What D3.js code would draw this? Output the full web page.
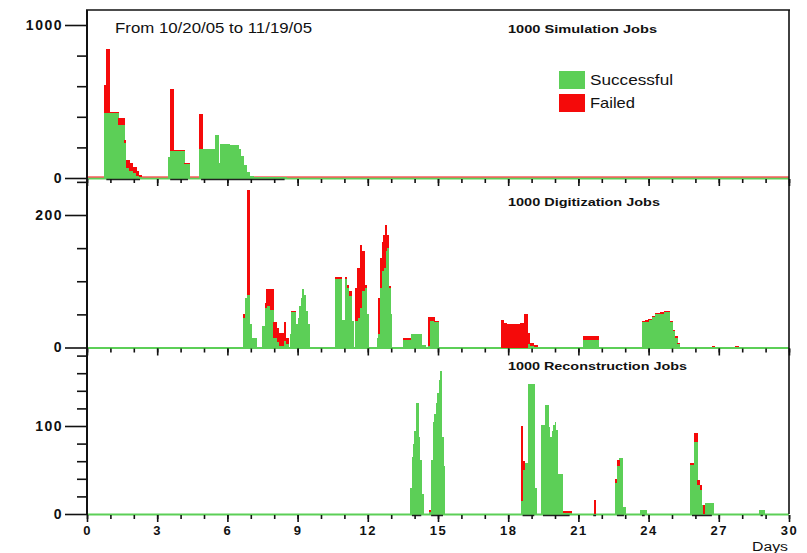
<!DOCTYPE html>
<html><head><meta charset="utf-8">
<script src="https://cdn.jsdelivr.net/npm/d3@7"></script>
<style>body{margin:0;background:#fff}svg{display:block}</style>
</head><body>
<svg id="c" width="807" height="553"></svg>
<script>
// ---- data: [startDay, endDay, successful, failed] ----
const simulationBins = [
 [0.74,0.82,425,185],[0.82,0.95,425,420],[0.95,1.33,425,8],[1.33,1.59,345,45],[1.59,1.66,230,20],
 [1.66,1.80,65,55],[1.80,1.95,45,55],[1.95,2.10,30,45],[2.10,2.22,15,32],[2.22,2.35,5,17],
 [3.47,3.56,140,0],[3.56,3.70,176,405],[3.70,4.16,176,6],[4.16,4.40,90,6],
 [4.79,4.93,190,228],[4.93,5.47,190,0],[5.47,5.61,281,0],[5.61,5.68,98,0],[5.68,6.10,225,0],
 [6.10,6.47,218,0],[6.47,6.58,190,0],[6.58,6.70,145,0],[6.70,6.82,85,0],[6.82,6.95,38,0],
 [6.95,7.10,15,0],[7.10,8.53,6,0]
];
const digitizationBins = [
 [6.68,6.75,45,5],[6.75,6.82,75,0],[6.82,6.97,80,158],[6.97,7.05,35,0],[7.05,7.25,15,0],
 [7.46,7.60,32,0],[7.60,7.67,60,7],[7.67,7.82,62,26],[7.82,7.96,57,31],[7.96,8.10,15,23],
 [8.10,8.20,8,22],[8.20,8.40,3,19],[8.40,8.50,10,28],[8.50,8.60,5,10],
 [8.66,8.72,20,0],[8.72,8.92,53,2],[8.92,9.00,35,0],[9.00,9.06,45,0],[9.06,9.13,62,0],
 [9.13,9.20,75,0],[9.20,9.27,88,0],[9.27,9.34,80,0],[9.34,9.41,55,0],[9.41,9.53,35,0],
 [10.60,10.90,103,3],[10.90,11.03,42,0],[11.03,11.10,103,3],[11.10,11.20,90,5],[11.20,11.30,78,8],
 [11.30,11.40,40,0],[11.45,11.55,40,50],[11.55,11.65,45,75],[11.65,11.75,60,95],[11.75,11.85,85,60],
 [11.85,11.95,90,5],[11.95,12.02,50,0],
 [12.40,12.45,15,0],[12.45,12.52,20,55],[12.52,12.60,90,45],[12.60,12.67,115,45],[12.67,12.75,120,50],
 [12.75,12.82,145,40],[12.82,12.89,150,20],[12.89,12.96,90,3],[12.96,13.03,50,0],
 [13.52,13.85,12,2],[13.85,14.30,20,1],[14.30,14.45,4,0],
 [14.59,14.66,3,43],[14.66,14.85,40,6],[14.85,15.01,38,2],
 [17.69,17.79,0,41],[17.79,17.93,0,37],[17.93,18.10,0,35],[18.10,18.29,0,36],[18.29,18.50,0,35],
 [18.50,18.68,0,37],[18.68,18.82,0,51],[18.82,18.93,5,17],[18.93,19.10,3,4],[19.10,19.24,1,3],
 [21.21,21.85,11,6],
 [23.70,23.85,38,2],[23.85,23.99,39,2],[23.99,24.13,41,2],[24.13,24.27,46,2],[24.27,24.49,50,2],
 [24.49,24.66,51,2],[24.66,24.91,53,2],[24.91,25.03,38,2],[25.03,25.13,25,2],[25.13,25.23,15,2],
 [25.23,25.34,5,2],[26.70,26.80,1,1.5],[27.70,27.85,1,1.5]
];
const reconstructionBins = [
 [13.80,13.88,29,0],[13.88,13.95,65,0],[13.95,13.99,80,0],[13.99,14.05,94,0],[14.05,14.16,126,0],
 [14.16,14.23,88,0],[14.23,14.30,61,0],[14.30,14.37,23,0],
 [14.62,14.69,2,2],[14.69,14.77,61,0],[14.77,14.84,105,0],[14.84,14.91,114,0],[14.91,14.97,126,0],
 [14.97,15.03,137,0],[15.03,15.07,152,0],[15.07,15.16,162,0],[15.16,15.23,88,0],[15.23,15.30,54,0],
 [18.53,18.60,15,85],[18.60,18.72,50,10],[18.72,18.86,58,0],[18.86,19.13,148,0],[19.13,19.20,30,0],
 [19.40,19.57,101,0],[19.57,19.71,124,0],[19.71,19.79,99,0],[19.79,19.86,88,0],[19.86,19.93,94,0],
 [19.93,20.00,101,0],[20.00,20.04,105,0],[20.04,20.10,95,0],[20.10,20.19,46,0],[20.19,20.33,45,0],
 [20.33,20.71,1,2],[21.67,21.72,0,16],
 [22.56,22.64,35,5],[22.64,22.75,55,6],[22.75,22.89,64,0],[22.89,23.03,8,0],[23.63,23.92,5,0],
 [25.77,25.92,56,2],[25.92,26.08,82,10],[26.08,26.20,33,6],[26.20,26.27,27,6],[26.27,26.34,10,0],
 [26.34,26.41,0,10],[26.41,26.79,12,0],[28.70,28.97,5,0]
];
const panelTitles = ["1000 Simulation Jobs","1000 Digitization Jobs","1000 Reconstruction Jobs"];
const majorTicksY = [[0,1000],[0,200],[0,100]];
const minorTicksY = [[200,400,600,800],[50,100,150,250],[20,40,60,80,120,140,160,180]];
const xMajorTicks = [0,3,6,9,12,15,18,21,24,27,30];
const xMinorTicks = d3.range(0,31,1);
const legendLabels = ["Successful","Failed"];
const dateRange = "From 10/20/05 to 11/19/05";

// ---- layout ----
const GREEN = "#5ccf57", RED = "#f50a0a";
const FONT = "Liberation Sans, Arial, sans-serif";
const svg = d3.select("#c");
const x = d3.scaleLinear().domain([0,30]).range([87,789]);
const panels = [
  {bins: simulationBins, y: d3.scaleLinear().domain([0,1000]).range([178,25]), redBase:true, dark:true},
  {bins: digitizationBins, y: d3.scaleLinear().domain([0,200]).range([347.5,215]), redBase:false, dark:false},
  {bins: reconstructionBins, y: d3.scaleLinear().domain([0,100]).range([514,426]), redBase:false, dark:true}
];
const titleY = [33,206,370];
const titleLen = [149,152,179];

panels.forEach((p,i)=>{
  const g = svg.append("g");
  const y = p.y, y0 = y(0);
  g.append("line").attr("x1",x(0)).attr("x2",x(30)).attr("y1",y0+0.5).attr("y2",y0+0.5)
    .attr("stroke",GREEN).attr("stroke-width",2);
  if (p.redBase) g.append("line").attr("x1",x(0)).attr("x2",x(30)).attr("y1",y0-1).attr("y2",y0-1)
    .attr("stroke",RED).attr("stroke-width",1.2);
  if (p.dark) {
    const groups=[]; p.bins.forEach(b=>{const last=groups[groups.length-1];
      if(last && b[0]-last[1]<0.08) last[1]=b[1]; else groups.push([b[0],b[1]]);});
    g.selectAll(".dk").data(groups).join("line")
      .attr("x1",d=>x(d[0])+2).attr("x2",d=>x(d[1])-2)
      .attr("y1",y0+1.5).attr("y2",y0+1.5).attr("stroke","#222").attr("stroke-width",1.5);
  }
  const bars = g.append("g").attr("shape-rendering","crispEdges");
  bars.selectAll(".s").data(p.bins.filter(d=>d[2]>0)).join("rect")
    .attr("x",d=>x(d[0])).attr("width",d=>x(d[1])-x(d[0])+0.4)
    .attr("y",d=>y(d[2])).attr("height",d=>y0-y(d[2])).attr("fill",GREEN);
  bars.selectAll(".f").data(p.bins.filter(d=>d[3]>0)).join("rect")
    .attr("x",d=>x(d[0])).attr("width",d=>x(d[1])-x(d[0])+0.4)
    .attr("y",d=>y(d[2]+d[3])).attr("height",d=>y(d[2])-y(d[2]+d[3])).attr("fill",RED);

  const ax = g.append("g").attr("transform",`translate(0,${y0+1})`);
  ax.call(d3.axisBottom(x).tickValues(xMinorTicks).tickSize(4).tickFormat(""));
  const axM = g.append("g").attr("transform",`translate(0,${y0+1})`);
  axM.call(d3.axisBottom(x).tickValues(xMajorTicks).tickSize(7).tickFormat(i===2?d3.format("d"):""));
  [ax,axM].forEach(a=>{a.select(".domain").remove(); a.selectAll("line").attr("stroke","#111").attr("stroke-width",1.6);});
  axM.selectAll("text").attr("y",20).attr("dy",0).attr("font-family",FONT)
    .attr("font-size",13).attr("font-weight","bold").attr("letter-spacing",1.5).attr("fill","#111");

  const yM = g.append("g").attr("transform","translate(87,0)")
    .call(d3.axisLeft(y).tickValues(majorTicksY[i]).tickSize(22).tickPadding(2).tickFormat(d3.format("d")));
  const ym = g.append("g").attr("transform","translate(87,0)")
    .call(d3.axisLeft(y).tickValues(minorTicksY[i]).tickSize(10).tickFormat(""));
  [yM,ym].forEach(a=>{a.select(".domain").remove(); a.selectAll("line").attr("stroke","#111").attr("stroke-width",1.6);});
  yM.selectAll("text").attr("font-family",FONT).attr("font-size",14)
    .attr("font-weight","bold").attr("letter-spacing",1.5).attr("fill","#111").attr("dy","0.3em");

  svg.append("text").attr("x",508).attr("y",titleY[i]).text(panelTitles[i])
    .attr("font-family",FONT).attr("font-size",11).attr("font-weight","bold")
    .attr("textLength",titleLen[i]).attr("lengthAdjust","spacingAndGlyphs").attr("fill","#111");
});

svg.append("line").attr("x1",87).attr("x2",87).attr("y1",10).attr("y2",515).attr("stroke","#111").attr("stroke-width",2);
svg.append("line").attr("x1",86).attr("x2",790).attr("y1",10).attr("y2",10).attr("stroke","#111").attr("stroke-width",1.6);
svg.append("line").attr("x1",789).attr("x2",789).attr("y1",10).attr("y2",514).attr("stroke","#111").attr("stroke-width",1.6);

svg.append("text").attr("x",115).attr("y",33).text(dateRange)
  .attr("font-family",FONT).attr("font-size",14)
  .attr("textLength",197).attr("lengthAdjust","spacingAndGlyphs").attr("fill","#111");

const legColors=[GREEN,RED], legY=[71,94], legLen=[83,45];
legendLabels.forEach((l,i)=>{
  svg.append("rect").attr("x",559).attr("y",legY[i]).attr("width",26).attr("height",18).attr("fill",legColors[i]);
  svg.append("text").attr("x",590).attr("y",legY[i]+14).text(l)
    .attr("font-family",FONT).attr("font-size",15)
    .attr("textLength",legLen[i]).attr("lengthAdjust","spacingAndGlyphs").attr("fill","#111");
});

svg.append("text").attr("x",752).attr("y",551).text("Days")
  .attr("font-family",FONT).attr("font-size",12)
  .attr("textLength",36).attr("lengthAdjust","spacingAndGlyphs").attr("fill","#111");
</script>
</body></html>
